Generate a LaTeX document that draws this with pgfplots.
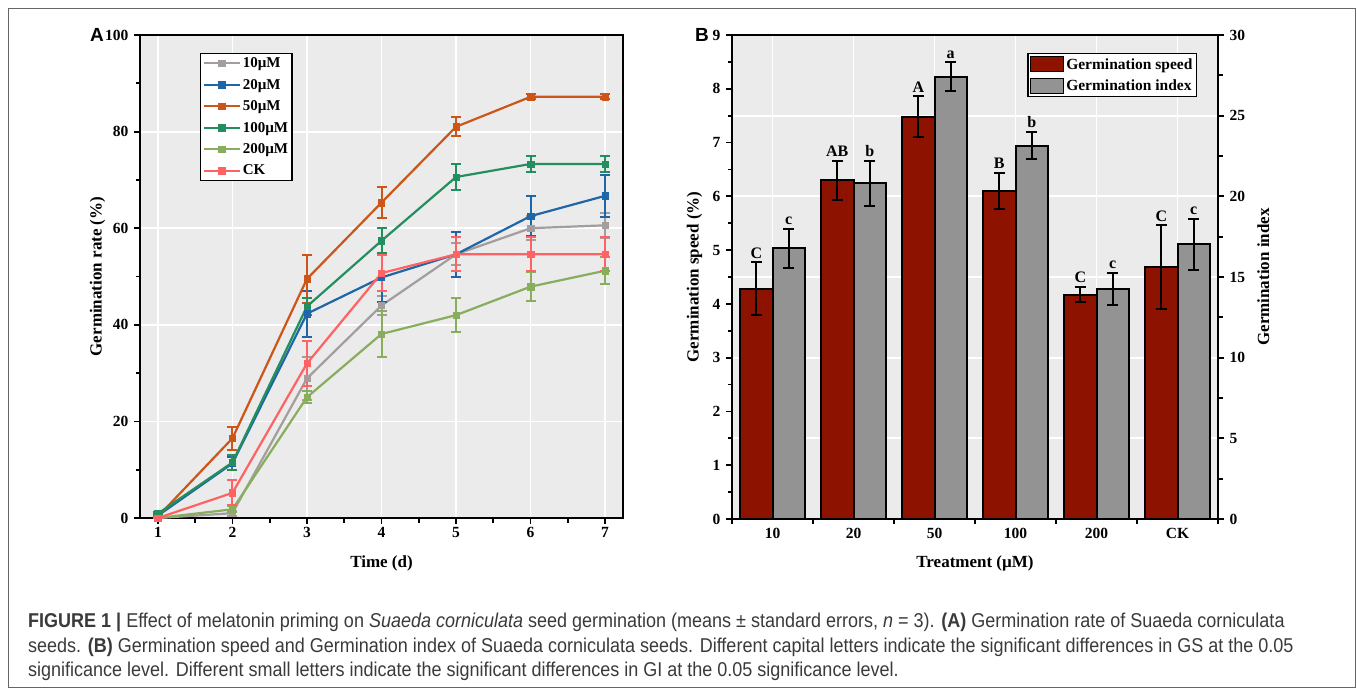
\documentclass[border=0pt]{standalone}
\usepackage{fontspec}
\setmainfont{Liberation Serif}
\newfontfamily\arialfont{Liberation Sans}
\newfontfamily\capfont[FakeStretch=0.9]{Liberation Sans}
\usepackage{pgfplots}
\pgfplotsset{compat=1.18}

\definecolor{bgA}{HTML}{EBEBEB}
\definecolor{c10}{HTML}{A39D9D}
\definecolor{c20}{HTML}{2066A6}
\definecolor{c50}{HTML}{CC5518}
\definecolor{c100}{HTML}{248F5E}
\definecolor{c200}{HTML}{88AD5C}
\definecolor{cCK}{HTML}{FF6262}
\definecolor{gsred}{HTML}{8E1200}
\definecolor{gigray}{HTML}{939393}
\definecolor{capgray}{HTML}{3A3A3A}

\pgfplotsset{
  panel/.style={
    scale only axis, tick align=outside,
    axis line style={line width=2.4pt},
    tick style={line width=1.8pt, black},
    major tick length=6pt, minor tick length=4.5pt,
    ticklabel style={font=\fontsize{15.5}{15.5}\selectfont\bfseries},
    /pgf/number format/assume math mode=true,
    label style={font=\fontsize{17}{17}\selectfont\bfseries},
    major grid style={white, line width=1.8pt},
  },
  ser/.style={color=#1, line width=2.2pt, mark=square*, mark size=3.2pt,
    mark options={solid, fill=#1, draw=#1, line width=0.5pt},
    error bars/y dir=both, error bars/y explicit,
    error bars/error bar style={line width=2pt, #1},
    error bars/error mark options={rotate=90, mark size=5pt, line width=2pt, #1}},
  barerr/.style={error bars/y dir=both, error bars/y explicit,
    error bars/error bar style={line width=2pt, black},
    error bars/error mark options={rotate=90, mark size=5.5pt, line width=2pt, black}},
}

\begin{document}
\begin{tikzpicture}[x=1pt,y=1pt]
\useasboundingbox (0,0) rectangle (1357,-689);
\draw[line width=1pt, black!60] (8,-8) rectangle (1355,-687);

% ---------- panel A
\begin{axis}[panel,
  at={(140pt,-518pt)}, anchor=south west, width=483pt, height=483pt,
  xmin=0.76, xmax=7.24, ymin=0, ymax=100,
  xtick={1,...,7}, ytick={0,20,...,100},
  minor x tick num=1, minor y tick num=1,
  tick pos=left, grid=major,
  yticklabel style={xshift=-2pt},
  axis background/.style={fill=bgA},
  xlabel={Time (d)}, ylabel={Germination rate (\%)},
  xlabel style={at={(axis description cs:0.5,-0.093)}, anchor=center},
  ylabel style={at={(axis description cs:-0.088,0.5)}, anchor=center},
  legend style={at={(0.124,0.963)}, anchor=north west, draw=black, line width=1.5pt,
    font=\fontsize{15}{15}\selectfont\bfseries, row sep=6pt, inner sep=2pt},
  legend cell align=left,
  legend image code/.code={\draw[mark repeat=2, mark phase=2, #1]
    plot coordinates {(0pt,0pt) (18pt,0pt) (36pt,0pt)};},
]
\addplot[ser=c10] coordinates {(1,0) +- (0,0) (2,1.0) +- (0,0.5) (3,28.9) +- (0,4.5)
  (4,44.0) +- (0,2.0) (5,54.6) +- (0,2.3) (6,60.0) +- (0,2.5) (7,60.6) +- (0,2.6)};
\addlegendentry{10µM}
\addplot[ser=c20] coordinates {(1,0.5) +- (0,0.3) (2,11.3) +- (0,1.3) (3,42.3) +- (0,4.8)
  (4,49.8) +- (0,5.0) (5,54.6) +- (0,4.6) (6,62.5) +- (0,4.2) (7,66.7) +- (0,4.3)};
\addlegendentry{20µM}
\addplot[ser=c50] coordinates {(1,0.3) +- (0,0) (2,16.5) +- (0,2.4) (3,49.5) +- (0,5.0)
  (4,65.3) +- (0,3.2) (5,81.0) +- (0,2.0) (6,87.2) +- (0,0.5) (7,87.2) +- (0,0.5)};
\addlegendentry{50µM}
\addplot[ser=c100] coordinates {(1,0.9) +- (0,0.3) (2,11.5) +- (0,1.5) (3,43.8) +- (0,1.8)
  (4,57.4) +- (0,2.6) (5,70.6) +- (0,2.6) (6,73.3) +- (0,1.7) (7,73.3) +- (0,1.7)};
\addlegendentry{100µM}
\addplot[ser=c200] coordinates {(1,0) +- (0,0) (2,1.8) +- (0,0.6) (3,25.0) +- (0,1.2)
  (4,38.1) +- (0,4.8) (5,42.0) +- (0,3.5) (6,47.9) +- (0,3.0) (7,51.2) +- (0,2.8)};
\addlegendentry{200µM}
\addplot[ser=cCK] coordinates {(1,0) +- (0,0) (2,5.2) +- (0,2.6) (3,32.0) +- (0,4.6)
  (4,50.7) +- (0,3.7) (5,54.6) +- (0,3.5) (6,54.6) +- (0,3.5) (7,54.6) +- (0,3.5)};
\addlegendentry{CK}
\end{axis}
\node[font=\arialfont\bfseries\fontsize{19}{19}\selectfont, anchor=east, inner sep=0pt] at (104,-35) {A};

% ---------- panel B, right axis (germination index)
\begin{axis}[panel,
  at={(732pt,-519pt)}, anchor=south west, width=486pt, height=484pt,
  xmin=-0.5, xmax=5.5, ymin=0, ymax=30,
  axis background/.style={fill=bgA},
  xtick={0,...,5}, xticklabels={}, xtick style={draw=none},
  ytick={0,5,...,30}, minor y tick num=1, ytick pos=right, yticklabel pos=right,
  yticklabel style={xshift=2pt},
  grid=major,
  ylabel={Germination index},
  ylabel style={at={(axis description cs:1.093,0.5)}, anchor=center, rotate=0},
  ybar, bar width=0.4,
]
\addplot[fill=gigray, draw=black, line width=2pt, bar shift=0.2, barerr] coordinates {
  (0,16.77) +- (0,1.2) (1,20.8) +- (0,1.4) (2,27.4) +- (0,0.9)
  (3,23.14) +- (0,0.83) (4,14.26) +- (0,1.0) (5,17.02) +- (0,1.6)};
\begin{scope}[every node/.style={font=\fontsize{16}{16}\selectfont\bfseries, anchor=south, inner sep=0pt, yshift=4pt}]
\node at (axis cs:0.2,17.97) {c};
\node at (axis cs:1.2,22.2) {b};
\node at (axis cs:2.2,28.3) {a};
\node at (axis cs:3.2,23.97) {b};
\node at (axis cs:4.2,15.26) {c};
\node at (axis cs:5.2,18.62) {c};
\end{scope}
\end{axis}

% ---------- panel B, left axis (germination speed)
\begin{axis}[panel,
  at={(732pt,-519pt)}, anchor=south west, width=486pt, height=484pt,
  xmin=-0.5, xmax=5.5, ymin=0, ymax=9,
  xtick={0,...,5}, xticklabels={10,20,50,100,200,CK},
  major x tick style={draw=none},
  minor xtick={-0.5,0.5,...,5.5},
  ytick={0,...,9}, minor y tick num=1, tick pos=left,
  yticklabel style={xshift=-2pt},
  xlabel={Treatment (µM)}, ylabel={Germination speed (\%)},
  xlabel style={at={(axis description cs:0.5,-0.091)}, anchor=center},
  ylabel style={at={(axis description cs:-0.077,0.5)}, anchor=center},
  ybar, bar width=0.4,
  legend style={at={(0.607,0.963)}, anchor=north west, draw=black, line width=1.5pt,
    font=\fontsize{15.5}{15.5}\selectfont\bfseries, row sep=5pt, inner sep=2pt},
  legend cell align=left,
  legend image code/.code={\draw[#1, line width=1.5pt] (0pt,-7pt) rectangle (33pt,8pt);},
]
\addplot[fill=gsred, draw=black, line width=2pt, bar shift=-0.2, barerr] coordinates {
  (0,4.28) +- (0,0.49) (1,6.30) +- (0,0.36) (2,7.48) +- (0,0.38)
  (3,6.10) +- (0,0.34) (4,4.17) +- (0,0.14) (5,4.68) +- (0,0.78)};
\addlegendentry{Germination speed}
\addlegendimage{fill=gigray, draw=black}
\addlegendentry{Germination index}
\begin{scope}[every node/.style={font=\fontsize{16}{16}\selectfont\bfseries, anchor=south, inner sep=0pt, yshift=4pt}]
\node at (axis cs:-0.2,4.77) {C};
\node at (axis cs:0.8,6.66) {AB};
\node at (axis cs:1.8,7.86) {A};
\node at (axis cs:2.8,6.44) {B};
\node at (axis cs:3.8,4.31) {C};
\node at (axis cs:4.8,5.46) {C};
\end{scope}
\end{axis}
\node[font=\arialfont\bfseries\fontsize{19}{19}\selectfont, anchor=east, inner sep=0pt] at (709,-35) {B};

% ---------- caption
\begin{scope}[every node/.style={anchor=base west, inner sep=0pt, text=capgray,
    font=\capfont\fontsize{20}{20}\selectfont}]
\node at (28,-627) {\textbf{FIGURE 1 |} Effect of melatonin priming on \textit{Suaeda corniculata} seed germination (means ± standard errors, \textit{n} = 3). \textbf{(A)} Germination rate of Suaeda corniculata};
\node at (28,-652) {seeds. \textbf{(B)} Germination speed and Germination index of Suaeda corniculata seeds. Different capital letters indicate the significant differences in GS at the 0.05};
\node at (28,-676) {significance level. Different small letters indicate the significant differences in GI at the 0.05 significance level.};
\end{scope}
\end{tikzpicture}
\end{document}
